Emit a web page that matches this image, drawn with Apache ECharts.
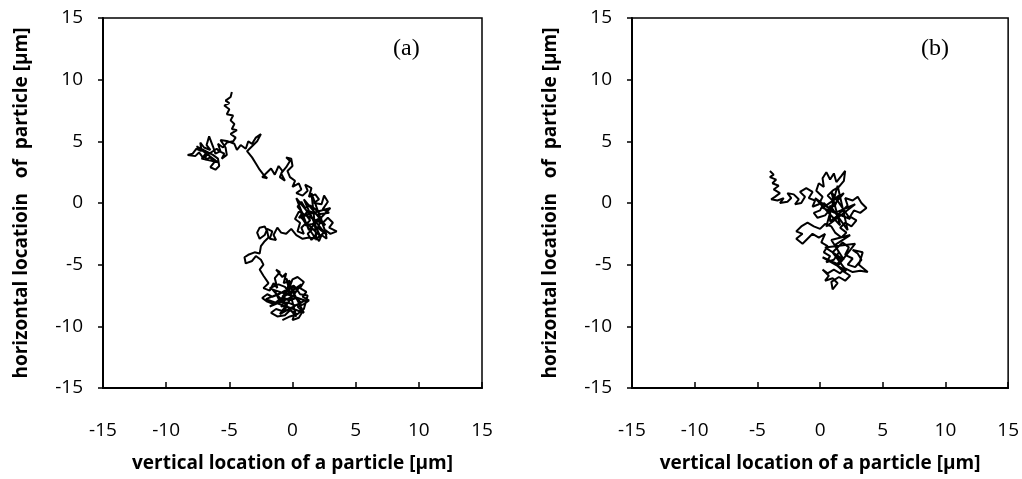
<!DOCTYPE html>
<html><head><meta charset="utf-8">
<script src="https://cdn.jsdelivr.net/npm/echarts@6/dist/echarts.min.js"></script>
<style>html,body{margin:0;padding:0;background:#fff}#c{width:1022px;height:479px}</style>
</head><body><div id="c"></div>
<script>
const tickValues = [-15, -10, -5, 0, 5, 10, 15];
const panelLabels = ['(a)', '(b)'];
const xAxisTitle = 'vertical location of a particle [µm]';
const yAxisTitle = 'horizontal locatioin   of  particle [µm]';

const pathA = [
[-4.8,9.0],[-4.9,8.6],[-5.3,8.3],[-5.0,8.1],[-5.4,7.9],[-5.0,7.6],[-5.2,7.2],[-4.7,7.1],[-4.9,6.7],[-4.6,6.4],[-4.8,6.0],[-4.4,5.9],[-4.9,5.6],[-4.5,5.3],[-4.7,5.0],
[-5.2,4.9],[-5.5,4.5],[-5.9,4.8],[-5.7,4.2],[-6.1,4.0],[-6.3,4.6],[-6.6,5.4],[-6.8,4.7],[-6.5,4.3],[-7.0,4.5],[-7.3,4.9],[-7.2,4.2],[-7.6,4.4],[-7.9,4.0],[-8.3,3.9],[-7.7,3.8],[-7.4,4.1],[-7.1,3.7],[-6.8,4.1],[-6.9,3.5],[-6.5,3.7],[-6.2,3.3],[-6.5,2.9],[-6.1,2.7],[-5.8,3.0],[-5.9,3.6],[-6.3,3.9],
[-7.6,4.6],[-5.9,3.3],[-7.2,3.6],[-6.0,4.4],
[-5.8,4.2],[-5.4,4.0],[-5.6,3.6],[-5.2,3.9],[-5.3,4.5],[-5.7,5.1],[-5.1,5.0],[-4.6,4.8],[-4.4,4.3],[-4.1,4.7],[-3.7,4.4],[-3.5,5.0],[-3.2,4.8],[-2.9,5.3],[-2.5,5.6],[-2.8,5.0],[-3.3,4.5],[-3.6,4.2],
[-3.2,3.7],[-2.9,3.2],[-2.6,2.7],[-2.3,2.3],[-2.0,2.0],[-2.4,2.1],[-2.0,2.5],[-1.7,2.8],[-1.4,2.3],[-1.1,3.0],[-0.8,2.6],[-1.0,2.1],[-0.6,1.8],[-0.9,2.4],[-0.5,2.9],[-0.2,3.4],[-0.5,3.7],[-0.1,3.6],[0.0,3.0],[-0.4,2.6],[-0.2,2.1],[0.2,1.8],[0.0,1.3],[0.5,1.6],[0.7,1.1],[0.3,0.8],[0.8,0.6],[1.2,1.0],[1.0,1.5],[1.5,1.2],[1.3,0.5],[1.8,0.7],[2.1,0.3],[1.7,0.0],[2.3,-0.1],[2.5,0.6],[2.8,0.1],[2.4,-0.5],[2.9,-0.8],[2.2,-0.9],[1.8,-0.5],[1.4,-0.2],[1.0,-0.4],[0.7,0.1],[0.4,-0.3],[0.8,-0.8],[0.5,-1.2],[1.1,-1.0],[1.4,-1.4],[1.0,-1.8],[1.6,-1.7],[2.0,-1.3],[2.4,-1.6],[2.8,-1.2],[3.2,-1.6],[2.9,-2.0],[3.5,-2.3],[3.0,-2.5],[2.6,-2.2],[2.7,-2.9],[2.3,-2.6],[2.1,-3.1],[1.8,-2.6],[1.5,-3.0],[1.2,-2.5],[1.6,-2.1],[1.1,-1.6],[0.7,-2.0],[0.9,-2.5],[0.4,-2.3],[0.6,-1.6],[0.2,-1.3],[0.5,-0.7],
[2.6,-1.8],[0.9,0.3],[2.2,-2.7],[0.6,-1.1],[3.0,-0.4],[1.3,-2.2],[0.3,0.4],[2.7,-2.6],[1.5,0.8],[1.9,-3.0],[0.8,-1.3],
[1.2,-0.6],[1.9,-0.9],[2.3,-1.3],[2.0,-2.0],[2.5,-2.4],[1.9,-2.9],[1.3,-2.8],[0.8,-2.9],[0.3,-2.6],[-0.1,-2.1],[-0.5,-2.5],
[-0.9,-2.4],[-1.2,-2.0],[-1.5,-2.6],[-1.3,-3.0],[-1.8,-2.9],[-1.6,-2.3],[-2.0,-2.1],[-2.2,-2.6],[-2.6,-2.9],[-2.8,-2.4],[-2.6,-2.0],[-2.2,-1.9],[-2.0,-2.3],[-1.9,-2.8],[-2.2,-3.1],[-2.5,-3.5],[-2.6,-4.1],[-3.0,-4.0],[-3.5,-4.2],[-3.8,-4.4],[-3.7,-4.9],[-3.2,-4.7],[-2.9,-4.3],[-2.5,-4.6],[-2.3,-5.0],[-2.6,-5.4],[-2.3,-5.9],
[-1.9,-6.5],[-2.3,-6.9],[-1.8,-7.1],[-1.5,-6.5],[-1.2,-6.9],[-1.4,-6.1],[-1.0,-5.6],[-1.3,-5.4],[-0.8,-6.0],[-0.5,-5.7],[-0.7,-6.5],[-0.2,-6.3],[-0.4,-6.9],[0.1,-6.7],[0.4,-7.1],[-0.1,-7.3],[-0.6,-7.1],[-1.1,-7.4],[-1.6,-7.6],[-2.0,-7.4],[-2.4,-7.7],[-2.0,-8.0],[-1.5,-8.2],[-1.1,-7.9],[-0.6,-7.8],[-0.9,-8.4],[-0.4,-8.3],[-0.7,-8.8],[-1.3,-8.6],[-1.7,-8.9],[-1.2,-9.2],[-0.6,-9.1],[-0.2,-8.7],[0.2,-8.9],[0.0,-9.5],[0.5,-9.3],[0.8,-8.8],[0.4,-8.4],[0.9,-8.2],[1.3,-7.9],[0.8,-7.6],[1.1,-7.2],[0.6,-6.9],[0.9,-6.4],[0.4,-6.0],[0.0,-6.2],[-0.3,-7.0],[-0.8,-7.6],[-0.3,-7.9],[0.3,-7.7],[0.7,-8.1],[0.2,-8.3],[-0.3,-8.1],[-1.0,-8.0],[-1.4,-7.1],[-1.8,-6.9],[-1.1,-6.6],[-0.6,-6.8],[0.0,-7.6],
[-1.8,-8.4],[0.7,-6.6],[-1.0,-9.0],[1.0,-7.9],[-1.6,-7.0],[0.3,-9.2],[-0.5,-6.1],[0.9,-8.9],[-2.1,-7.8],[0.2,-6.8],
[0.6,-7.4],[1.2,-7.5],[0.9,-8.6],[0.4,-9.0],[-0.2,-9.2],[-0.8,-9.5]
];

const pathB = [
[-4.0,2.6],[-3.7,2.3],[-4.0,2.1],[-3.5,1.9],[-3.8,1.6],[-3.3,1.4],[-3.7,1.1],[-3.2,0.8],[-3.6,0.5],[-3.9,0.3],[-3.4,0.2],[-2.9,0.4],[-3.2,0.0],[-2.6,0.1],[-2.3,0.4],[-2.6,0.8],[-2.1,0.7],[-1.7,0.3],[-2.0,-0.1],[-1.5,0.0],[-1.2,0.5],[-1.6,0.9],[-1.1,1.2],[-0.6,0.9],[-0.9,0.4],[-0.4,0.2],[-0.6,-0.3],[-0.1,-0.1],[0.2,0.5],[-0.3,1.0],[-0.1,1.6],[0.3,1.3],[0.2,2.0],[0.5,2.5],[0.8,1.9],[1.1,2.4],[1.3,1.7],[1.7,2.2],[2.0,2.6],[1.9,1.8],[1.5,1.3],[1.0,1.0],[0.6,0.6],[1.0,0.2],[1.5,0.6],[1.2,-0.2],[0.7,-0.4],[0.3,0.0],[0.0,-0.6],[-0.5,-0.8],[-0.2,-1.2],[0.4,-1.0],
[1.9,0.8],[0.2,-0.4],[2.4,-1.3],[0.9,0.9],[1.6,-1.8],[-0.4,0.4],[1.2,-0.8],[2.8,-0.1],[0.5,-1.9],[1.4,1.4],[2.2,-2.2],[0.8,-0.2],
[0.8,-1.5],[1.3,-1.1],[1.8,-0.6],[2.2,-0.2],[2.0,0.4],[2.6,0.2],[3.0,0.5],[3.3,0.0],[3.7,-0.4],[3.2,-0.8],[2.7,-0.6],[2.4,-1.1],[2.9,-1.4],[2.5,-1.9],[2.0,-1.6],[1.6,-2.0],[2.1,-2.4],[1.7,-2.8],[1.2,-2.4],[0.9,-1.9],[0.4,-1.7],[0.0,-2.1],[-0.5,-1.9],[-1.0,-1.6],[-1.5,-1.9],[-1.9,-2.3],[-1.4,-2.5],[-1.9,-2.9],[-1.4,-3.3],[-1.0,-2.9],[-0.6,-2.5],[-0.1,-2.8],[0.4,-2.5],[0.1,-3.2],[0.6,-3.5],[0.3,-4.0],[0.8,-4.3],[0.5,-4.8],[1.1,-4.6],[1.5,-4.0],[1.2,-3.4],
[2.4,-2.6],[0.9,-3.0],[1.9,-4.6],[0.4,-3.6],[2.8,-3.3],[1.5,-5.0],[0.2,-4.4],[2.1,-5.5],[1.0,-4.0],
[1.8,-3.2],[2.3,-3.6],[2.0,-4.2],[2.6,-4.5],[2.2,-5.0],[2.8,-5.2],[3.3,-4.6],[3.0,-4.1],[2.6,-3.8],[3.4,-4.0],[3.1,-5.0],[3.8,-5.6],[3.2,-5.5],[2.6,-5.6],[2.0,-5.3],[1.6,-5.7],[1.1,-5.4],[0.6,-5.7],[0.2,-5.4],[0.7,-5.9],[0.4,-6.3],[1.0,-6.1],[1.4,-6.5],[1.0,-7.0],[0.9,-6.4],[1.5,-6.0],[2.0,-6.3],[2.4,-5.9],[1.8,-5.5],[1.3,-5.0],[1.7,-4.6],[1.2,-4.3]
];

const chart = echarts.init(document.getElementById('c'));
const font = '"Open Sans", sans-serif';
const grids = [
  {left: 103, right: 540, top: 18, bottom: 91},
  {left: 632, right: 12, top: 18, bottom: 91}
];
function xAx(i){return {gridIndex:i,type:'value',min:tickValues[0],max:tickValues[tickValues.length-1],interval:5,
  axisLine:{onZero:false,lineStyle:{color:'#000',width:2}},axisTick:{inside:true,length:6,lineStyle:{color:'#000',width:1.5}},
  splitLine:{show:false},axisLabel:{color:'#000',fontSize:19,fontFamily:font,margin:33},
  name:xAxisTitle,nameLocation:'middle',nameGap:66,nameTextStyle:{color:'#000',fontSize:19,fontWeight:'bold',fontFamily:font}};}
function yAx(i){return {gridIndex:i,type:'value',min:tickValues[0],max:tickValues[tickValues.length-1],interval:5,
  axisLine:{onZero:false,lineStyle:{color:'#000',width:2}},axisTick:{length:5,lineStyle:{color:'#000',width:1.5}},
  splitLine:{show:false},axisLabel:{color:'#000',fontSize:19,fontFamily:font,margin:20},
  name:yAxisTitle,nameLocation:'middle',nameGap:72,nameTextStyle:{color:'#000',fontSize:19,fontWeight:'bold',fontFamily:font}};}
chart.setOption({
  animation:false,
  grid: grids.map(g=>Object.assign({show:true,borderColor:'#000',borderWidth:1.5,backgroundColor:'transparent'},g)),
  xAxis:[xAx(0),xAx(1)],
  yAxis:[yAx(0),yAx(1)],
  graphic:[
    {type:'text',left:393,top:37,style:{text:panelLabels[0],font:'24px "Liberation Serif", serif',fill:'#000'}},
    {type:'text',left:921,top:37,style:{text:panelLabels[1],font:'24px "Liberation Serif", serif',fill:'#000'}}
  ],
  series:[
    {type:'line',xAxisIndex:0,yAxisIndex:0,data:pathA,showSymbol:false,lineStyle:{color:'#000',width:2}},
    {type:'line',xAxisIndex:1,yAxisIndex:1,data:pathB,showSymbol:false,lineStyle:{color:'#000',width:2}}
  ]
});
</script></body></html>
